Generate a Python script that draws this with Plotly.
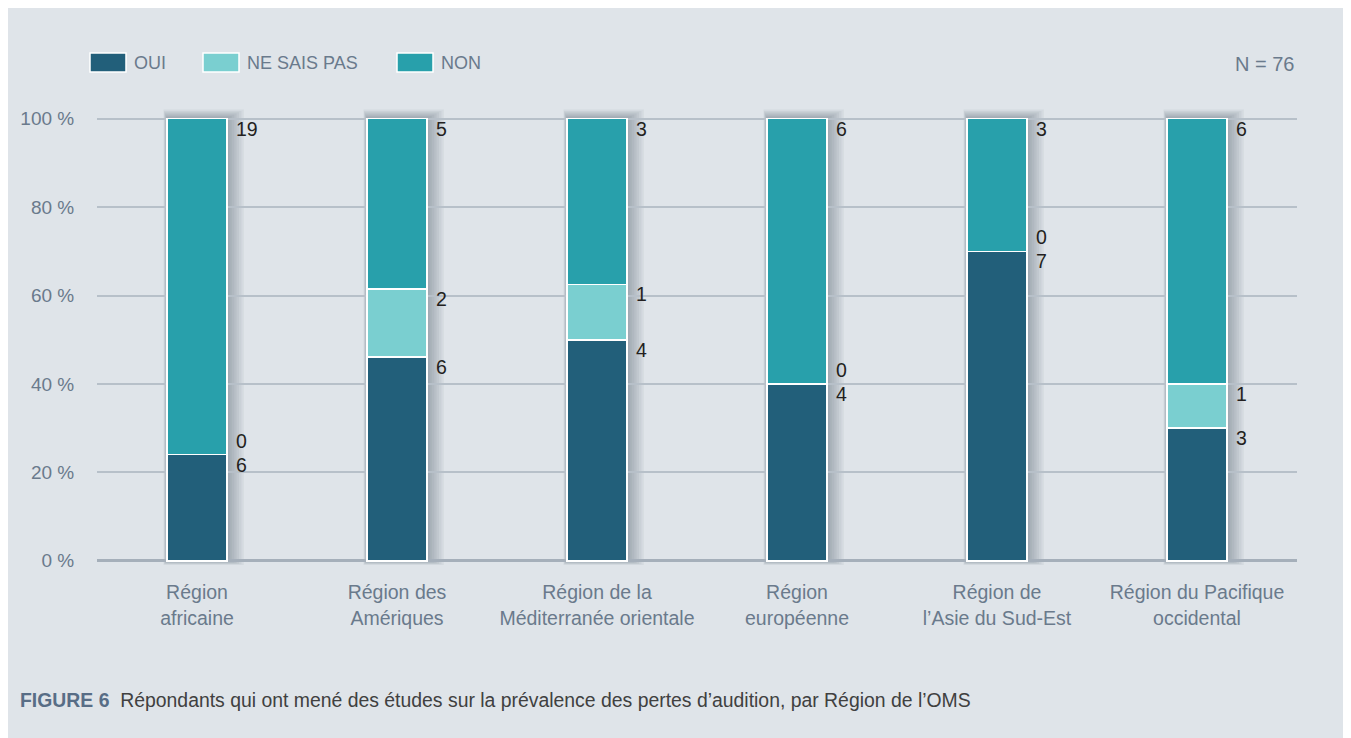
import plotly.graph_objects as go

# ---- data ----
regions = ["Région<br>africaine", "Région des<br>Amériques", "Région de la<br>Méditerranée orientale",
           "Région<br>européenne", "Région de<br>l’Asie du Sud-Est", "Région du Pacifique<br>occidental"]
series_names = ["OUI", "NE SAIS PAS", "NON"]
oui = [6, 6, 4, 4, 7, 3]
ne_sais_pas = [0, 2, 1, 0, 0, 1]
non = [19, 5, 3, 6, 3, 6]
y_tick_vals = [0, 20, 40, 60, 80, 100]
y_tick_text = ["0 %", "20 %", "40 %", "60 %", "80 %", "100 %"]
n_label = "N = 76"
caption_head = "FIGURE 6"
caption_body = "Répondants qui ont mené des études sur la prévalence des pertes d’audition, par Région de l’OMS"

# ---- style ----
colors = ["#225f7a", "#7acfd0", "#28a0ab"]
BG = "#dfe4e9"
FONT = "Liberation Sans, Arial, Helvetica, sans-serif"
SLATE = "#6a7a8c"
OFF = 8                      # page body margin
W, H = 1351 - OFF, 738 - OFF
ML, MR, MT, MB = 97 - OFF, 54, 101 - OFF, 164
YR = [-3, 104]
BAR_W = 0.3

def px2x(px):
    return (px - OFF - ML) / (W - ML - MR)

def px2y(py):
    return (H - MB - (py - OFF)) / (H - MT - MB)

series = [oui, ne_sais_pas, non]
xs = list(range(len(regions)))
totals = [sum(s[i] for s in series) for i in xs]
pcts = [[v / t * 100 for v, t in zip(s, totals)] for s in series]

fig = go.Figure()
for name, p, c in zip(series_names, pcts, colors):
    fig.add_trace(go.Bar(x=xs, y=p, name=name, width=BAR_W,
                         marker=dict(color=c, line=dict(color="white", width=1.6)),
                         showlegend=False, hoverinfo="skip"))

shapes = []
# soft shadows behind bars
unit_x = 1 / 200.0
unit_y = (YR[1] - YR[0]) / (H - MT - MB)
for i in xs:
    for k in range(1, 8):
        shapes.append(dict(type="rect", xref="x", yref="y", layer="below",
                           x0=i - BAR_W / 2 - k * 0.5 * unit_x, x1=i + BAR_W / 2 + k * 2.4 * unit_x,
                           y0=-k * 0.6 * unit_y, y1=100 + k * 1.3 * unit_y,
                           fillcolor="rgba(55,68,88,0.06)", line=dict(width=0)))

annotations = []
# value labels
for s_idx, s in enumerate(series):
    for i in xs:
        top = sum(pcts[j][i] for j in range(s_idx + 1))
        zero = s[i] == 0
        annotations.append(dict(x=i, y=top, xref="x", yref="y", text=str(s[i]), showarrow=False,
                                xanchor="left", yanchor="bottom" if zero else "top",
                                xshift=BAR_W / 2 * 200 + 7, yshift=1 if zero else 3,
                                font=dict(family=FONT, size=19.5, color="#231f20")))

# manual legend
leg_x = [90, 203, 397]
for name, c, lx in zip(series_names, colors, leg_x):
    shapes.append(dict(type="rect", xref="paper", yref="paper", layer="above",
                       x0=px2x(lx), x1=px2x(lx + 36), y0=px2y(72), y1=px2y(53),
                       fillcolor=c, line=dict(color="white", width=1.5)))
    annotations.append(dict(x=px2x(lx + 42), y=px2y(63), xref="paper", yref="paper", text=name,
                            showarrow=False, xanchor="left", yanchor="middle",
                            font=dict(family=FONT, size=18, color=SLATE)))

annotations.append(dict(x=px2x(1296), y=px2y(64), xref="paper", yref="paper", text=n_label,
                        showarrow=False, xanchor="right", yanchor="middle",
                        font=dict(family=FONT, size=20, color=SLATE)))

annotations.append(dict(x=px2x(18), y=px2y(700), xref="paper", yref="paper",
                        text=f"<span style='color:#586d86'><b>{caption_head}</b></span>  {caption_body}",
                        showarrow=False, xanchor="left", yanchor="middle",
                        font=dict(family=FONT, size=19.4, color="#404040")))

# light strip at the right edge of the panel
shapes.append(dict(type="rect", xref="paper", yref="paper", layer="above",
                   x0=px2x(1345), x1=px2x(1360), y0=px2y(760), y1=px2y(0),
                   fillcolor="white", line=dict(width=0)))

fig.update_layout(
    width=W, height=H, barmode="stack",
    margin=dict(l=ML, r=MR, t=MT, b=MB, autoexpand=False),
    paper_bgcolor=BG, plot_bgcolor="rgba(0,0,0,0)",
    showlegend=False, shapes=shapes, annotations=annotations,
    xaxis=dict(range=[-0.5, len(regions) - 0.5], tickvals=xs, ticktext=regions, showgrid=False,
               zeroline=False, showline=False, ticks="outside", ticklen=1, tickcolor="rgba(0,0,0,0)",
               tickfont=dict(family=FONT, size=19.5, color=SLATE)),
    yaxis=dict(range=YR, tickvals=y_tick_vals, ticktext=y_tick_text, showgrid=True,
               gridcolor="#b7c0c9", gridwidth=1.5, zeroline=True, zerolinecolor="#a5afba", zerolinewidth=2.5,
               showline=False, ticks="outside", ticklen=18, tickcolor="rgba(0,0,0,0)",
               tickfont=dict(family=FONT, size=19, color=SLATE)),
)

fig.write_html("out.html")
